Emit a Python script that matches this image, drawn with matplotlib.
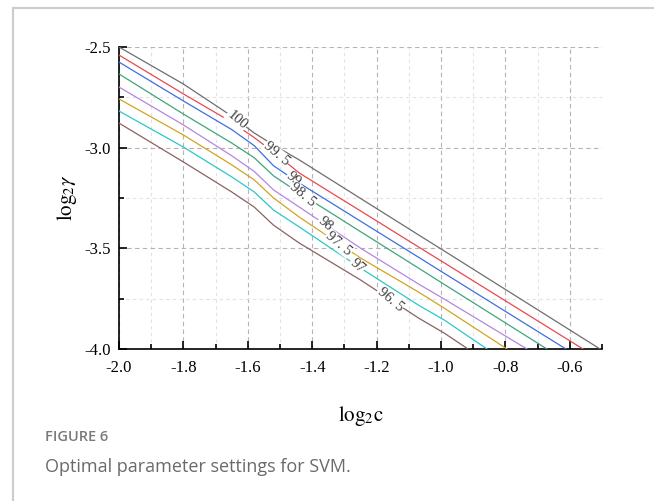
import numpy as np
import matplotlib
matplotlib.use("Agg")
import matplotlib.pyplot as plt
from matplotlib.lines import Line2D
from matplotlib.ticker import MultipleLocator, FormatStrFormatter

plt.rcParams['font.family'] = 'Liberation Serif'
plt.rcParams['mathtext.fontset'] = 'stix'
plt.rcParams['axes.unicode_minus'] = False

# contour lines (log2c on x, log2gamma on y)
log2c = [-2.0, -1.8, -1.65, -1.58, -1.52, -1.44, -1.25, -1.07, -0.99]
g100 = [-2.500, -2.684, -2.843, -2.927, -2.987, -3.061, -3.252, -3.433, -3.513]
g995 = [-2.540, -2.733, -2.873, -2.950, -3.022, -3.126, -3.314, -3.493, -3.572]
g99 = [-2.575, -2.768, -2.910, -2.990, -3.090, -3.176, -3.365, -3.544, -3.624]
g985 = [-2.634, -2.833, -2.977, -3.050, -3.140, -3.225, -3.417, -3.598, -3.679]
g98 = [-2.699, -2.887, -3.040, -3.118, -3.210, -3.295, -3.499, -3.677, -3.752]
g975 = [-2.758, -2.937, -3.085, -3.160, -3.250, -3.345, -3.548, -3.717, -3.797]
g97 = [-2.818, -2.997, -3.145, -3.220, -3.310, -3.394, -3.598, -3.782, -3.856]
g965 = [-2.878, -3.071, -3.220, -3.295, -3.385, -3.474, -3.657, -3.846, -3.921]
# where each line hits the bottom (log2gamma = -4.0)
end_c = [-0.506, -0.559, -0.612, -0.671, -0.733, -0.795, -0.857, -0.916]

levels = ['100', '99. 5', '99', '98. 5', '98', '97. 5', '97', '96. 5']
label_c = [-1.634, -1.512, -1.457, -1.429, -1.360, -1.317, -1.261, -1.158]
colors = ['#6e6e6e', '#e8494f', '#3c6fe0', '#3fa57a', '#b685e0', '#d2a322', '#2cc7c7', '#8a6262']

fig = plt.figure(figsize=(6.54, 5.01), dpi=100)
ax = fig.add_axes([119/654, 1-349/501, 483/654, 302/501])

lines = [g100, g995, g99, g985, g98, g975, g97, g965]
for i, ys in enumerate(lines):
    xx = log2c + [end_c[i]]
    yy = ys + [-4.0]
    ax.plot(xx, yy, color=colors[i], lw=0.9, zorder=3)
    ly = np.interp(label_c[i], xx, yy)
    ax.text(label_c[i], ly, levels[i], rotation=-40, fontsize=10.5, color='#3a3a3a',
            ha='center', va='center', rotation_mode='anchor', zorder=4,
            bbox=dict(facecolor='white', edgecolor='none', pad=0.5))

ax.set_xlim(-2.0, -0.5)
ax.set_ylim(-4.0, -2.5)
ax.xaxis.set_major_locator(MultipleLocator(0.2))
ax.xaxis.set_minor_locator(MultipleLocator(0.1))
ax.yaxis.set_major_locator(MultipleLocator(0.5))
ax.yaxis.set_minor_locator(MultipleLocator(0.25))
ax.xaxis.set_major_formatter(FormatStrFormatter('%.1f'))
ax.yaxis.set_major_formatter(FormatStrFormatter('%.1f'))
ax.set_xticks([-2.0, -1.8, -1.6, -1.4, -1.2, -1.0, -0.8, -0.6])

ax.grid(which='major', color='#b4b4b4', ls=(0, (4, 3)), lw=0.8)
ax.grid(which='minor', color='#e2e2e2', ls=(0, (3, 3)), lw=0.8)
ax.set_axisbelow(True)

for s in ['top', 'right']:
    ax.spines[s].set_visible(False)
for s in ['left', 'bottom']:
    ax.spines[s].set_linewidth(1.2)
ax.tick_params(which='both', direction='in', labelsize=12, width=1.2)
ax.tick_params(which='major', length=6)
ax.tick_params(axis='x', which='major', pad=8)
ax.tick_params(axis='y', which='major', pad=6)
ax.tick_params(which='minor', length=3.5)

ax.set_xlabel(r'$\mathrm{log}_2\mathrm{c}$', fontsize=15, labelpad=20)
ax.set_ylabel(r'$\mathrm{log}_2\gamma$', fontsize=15, labelpad=4)

# frame of the figure panel
fig.add_artist(Line2D([13/654, 13/654], [0, 1-8/501], transform=fig.transFigure, color='#cccccc', lw=1.5))
fig.add_artist(Line2D([13/654, 1], [1-8/501, 1-8/501], transform=fig.transFigure, color='#cccccc', lw=1.5))

fig.text(45/654, 1-437/501, 'FIGURE 6', family='Open Sans', weight='semibold',
         color='#7a7a7a', fontsize=10.5, va='center')
fig.text(45/654, 1-467/501, 'Optimal parameter settings for SVM.', family='Open Sans',
         color='#6a6a6a', fontsize=13, va='center')

fig.savefig('out.png', dpi=100)
